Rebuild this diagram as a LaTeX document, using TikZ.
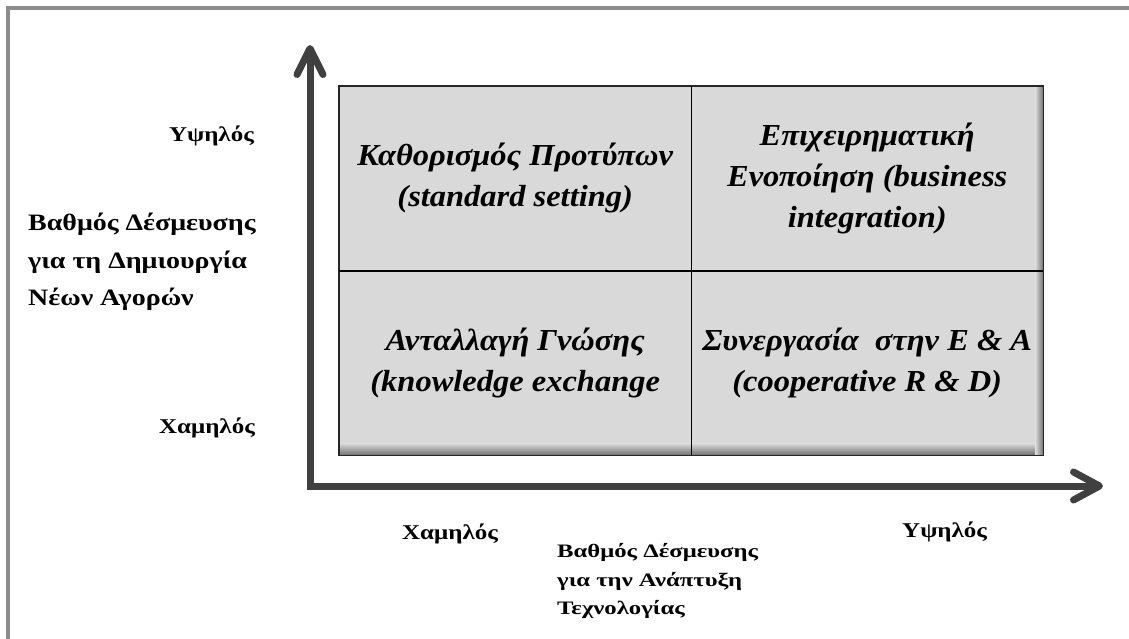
\documentclass[tikz,border=0pt]{standalone}
\usepackage{fontspec}
\setmainfont{Liberation Serif}
\newfontfamily\cellfont{Liberation Serif}[FakeStretch=1.065]
\newfontfamily\lblfont{Liberation Serif}[FakeStretch=1.19]
\newfontfamily\xttlfont{Liberation Serif}[FakeStretch=1.3]
\usetikzlibrary{calc}
\definecolor{framegray}{HTML}{8C8C8C}
\definecolor{axisgray}{HTML}{404040}
\definecolor{cellgray}{HTML}{D9D9D9}
\definecolor{shadowgray}{HTML}{6E6E6E}
\begin{document}
\begin{tikzpicture}[x=1pt,y=-1pt,
  cell/.style={fill=cellgray, minimum width=352pt, minimum height=184.5pt, inner sep=0pt, align=center,
    font=\cellfont\fontsize{30.5}{41}\selectfont\bfseries\itshape, anchor=north west},
  axis/.style={draw=axisgray, line width=7pt, line cap=round, line join=round},
  lvl/.style={font=\lblfont\fontsize{21}{24}\selectfont\bfseries, inner sep=0pt},
  ttl/.style={align=left, inner sep=0pt, anchor=west}]
\useasboundingbox (0,0) rectangle (1129,639);
% frame
\draw[framegray, line width=4pt] (8,645) -- (8,8) -- (1135,8);
% cells
\node[cell] (c11) at (339,86) {Καθορισμός Προτύπων\\(standard setting)};
\node[cell] (c12) at (691,86) {Επιχειρηματική\\Ενοποίηση (business\\integration)};
\node[cell] (c21) at (339,270.5) {Ανταλλαγή Γνώσης\\(knowledge exchange};
\node[cell] (c22) at (691,270.5) {Συνεργασία\ \ στην Ε \& Α\\(cooperative R \& D)};
% inner shadow
\shade[top color=cellgray, bottom color=shadowgray] ($(c21.south west)+(0,-12)$) rectangle (c22.south east);
\shade[left color=cellgray, right color=shadowgray] ($(c12.north east)+(-8,0)$) rectangle (c22.south east);
% borders
\draw[line width=1.6pt, draw=black!85] (c11.north west) rectangle (c22.south east);
\draw[line width=1.4pt] (c11.north east) -- (c21.south east);
\draw[line width=1.4pt] (c11.south west) -- (c12.south east);
% axes
\coordinate (O) at (310,486);
\coordinate (ytip) at (310,48.5);
\coordinate (xtip) at (1099.5,486);
\draw[axis, line join=miter, line cap=butt] (ytip) -- (O) -- (xtip);
\draw[axis] ($(ytip)+(-13,26)$) -- (ytip) -- ($(ytip)+(13,26)$);
\draw[axis] ($(xtip)+(-26,-14)$) -- (xtip) -- ($(xtip)+(-26,14)$);
% level labels
\node[lvl, anchor=base east] (yhigh) at (254,142) {Υψηλός};
\node[lvl, anchor=base east] (ylow) at (255,433) {Χαμηλός};
\node[lvl, anchor=base west] (xlow) at (402,539) {Χαμηλός};
\node[lvl, anchor=base west] (xhigh) at (902,537) {Υψηλός};
% axis titles
\node[ttl, font=\lblfont\fontsize{23.5}{37.5}\selectfont\bfseries] (ytitle) at (28,262)
  {Βαθμός Δέσμευσης\\για τη Δημιουργία\\Νέων Αγορών};
\node[ttl, font=\xttlfont\fontsize{19}{28.5}\selectfont\bfseries] (xtitle) at (557,581)
  {Βαθμός Δέσμευσης\\για την Ανάπτυξη\\Τεχνολογίας};
\end{tikzpicture}
\end{document}
